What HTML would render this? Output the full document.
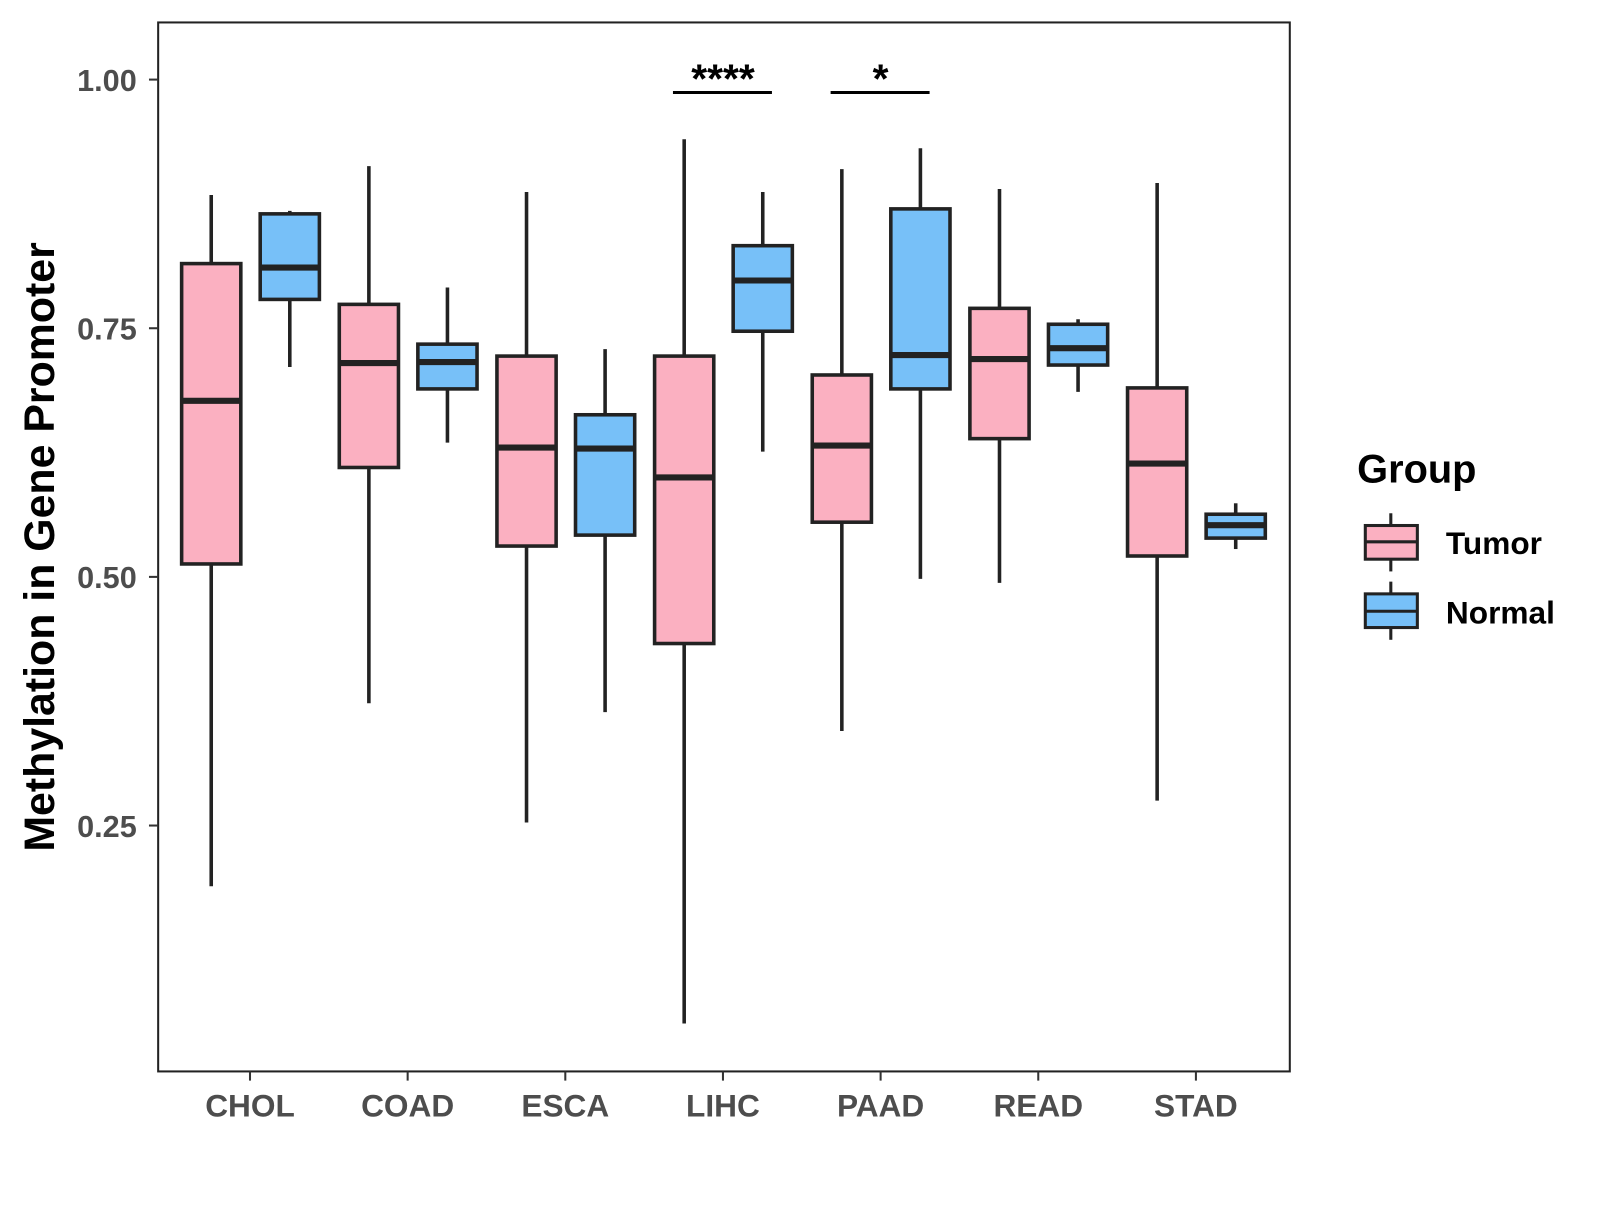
<!DOCTYPE html>
<html><head><meta charset="utf-8"><style>
body{margin:0;background:#fff;}
svg text{font-family:"Liberation Sans",Arial,sans-serif;font-weight:bold;}
</style></head><body>
<svg id="chart" width="1600" height="1200" viewBox="0 0 1568 1176" xmlns="http://www.w3.org/2000/svg">
<rect x="155" y="22" width="1109" height="1028" fill="#fff" stroke="#222" stroke-width="2"/>
<g id="marks"></g>
<g id="axes"></g>
<text transform="translate(53,536) rotate(-90)" text-anchor="middle" font-size="42" fill="#000">Methylation in Gene Promoter</text>
<g>
<text x="1330" y="473" font-size="39" fill="#000">Group</text>
<g>
<line x1="1363" y1="503" x2="1363" y2="560" stroke="#222" stroke-width="3"/>
<rect x="1338" y="515" width="51" height="33" fill="#FBB0C1" stroke="#222" stroke-width="3"/>
<line x1="1338" y1="531" x2="1389" y2="531" stroke="#222" stroke-width="3"/>
<text x="1417" y="543" font-size="31" fill="#000">Tumor</text></g>
<g>
<line x1="1363" y1="570" x2="1363" y2="627" stroke="#222" stroke-width="3"/>
<rect x="1338" y="582" width="51" height="33" fill="#77C0F8" stroke="#222" stroke-width="3"/>
<line x1="1338" y1="599" x2="1389" y2="599" stroke="#222" stroke-width="3"/>
<text x="1417" y="611" font-size="31" fill="#000">Normal</text></g>
</g>
</svg>
<script>
const categories=["CHOL","COAD","ESCA","LIHC","PAAD","READ","STAD"];
const tumorLow=[0.189,0.373,0.253,0.051,0.345,0.494,0.275];
const tumorQ1=[0.513,0.610,0.531,0.433,0.555,0.639,0.521];
const tumorMed=[0.677,0.715,0.630,0.600,0.632,0.719,0.614];
const tumorQ3=[0.815,0.774,0.722,0.722,0.703,0.770,0.690];
const tumorHigh=[0.884,0.913,0.887,0.940,0.910,0.890,0.896];
const normalLow=[0.711,0.635,0.364,0.626,0.498,0.686,0.528];
const normalQ1=[0.779,0.689,0.542,0.747,0.689,0.713,0.539];
const normalMed=[0.811,0.716,0.629,0.798,0.723,0.730,0.552];
const normalQ3=[0.865,0.734,0.663,0.833,0.870,0.754,0.563];
const normalHigh=[0.868,0.791,0.729,0.887,0.931,0.759,0.574];
const yTicks=[0.25,0.5,0.75,1.0];
const yTickLabels=["0.25","0.50","0.75","1.00"];
const sigCats=["LIHC","PAAD"];
const sigLabels=["****","*"];
const sigLevel=[0.987,0.987];

const NS="http://www.w3.org/2000/svg";
function y(v){return 78+(1-v)*974.7;}
function x(i){return 245+i*154.5;}
function mk(tag,attrs,parent){const e=document.createElementNS(NS,tag);for(const k in attrs)e.setAttribute(k,attrs[k]);parent.appendChild(e);return e;}
const marks=document.getElementById('marks');
const axes=document.getElementById('axes');
const groups=[
 {name:"tumor",off:-38,fill:"#FBB0C1",lo:tumorLow,q1:tumorQ1,md:tumorMed,q3:tumorQ3,hi:tumorHigh},
 {name:"normal",off:39,fill:"#77C0F8",lo:normalLow,q1:normalQ1,md:normalMed,q3:normalQ3,hi:normalHigh}];
categories.forEach((c,i)=>{
 groups.forEach(gr=>{
  const cx=x(i)+gr.off,w=58;
  const g=mk('g',{},marks);
  
  
  mk('line',{x1:cx,x2:cx,y1:y(gr.hi[i]),y2:y(gr.lo[i]),stroke:"#222","stroke-width":3.5},g);
  mk('rect',{x:cx-w/2,y:y(gr.q3[i]),width:w,height:y(gr.q1[i])-y(gr.q3[i]),fill:gr.fill,stroke:"#222","stroke-width":3.5},g);
  mk('line',{x1:cx-w/2,x2:cx+w/2,y1:y(gr.md[i]),y2:y(gr.md[i]),stroke:"#222","stroke-width":6},g);
 });
 mk('line',{x1:x(i),x2:x(i),y1:1050,y2:1059,stroke:"#333","stroke-width":2},axes);
 const t=mk('text',{x:x(i),y:1094,"text-anchor":"middle","font-size":31,fill:"#4d4d4d"},axes);
 t.textContent=c;
 
 
});
yTicks.forEach((v,k)=>{
 mk('line',{x1:146,x2:155,y1:y(v),y2:y(v),stroke:"#333","stroke-width":2},axes);
 const t=mk('text',{x:134,y:y(v)+11,"text-anchor":"end","font-size":30,fill:"#4d4d4d"},axes);
 t.textContent=yTickLabels[k];
 
 
});
sigCats.forEach((c,k)=>{
 const i=categories.indexOf(c);
 const g=mk('g',{},marks);
 
 
 mk('line',{x1:x(i)-49,x2:x(i)+48,y1:y(sigLevel[k]),y2:y(sigLevel[k]),stroke:"#000","stroke-width":3},g);
 const t=mk('text',{x:x(i),y:y(sigLevel[k])+0,"text-anchor":"middle","font-size":40,fill:"#000"},g);
 t.textContent=sigLabels[k];
});
</script>
</body></html>
